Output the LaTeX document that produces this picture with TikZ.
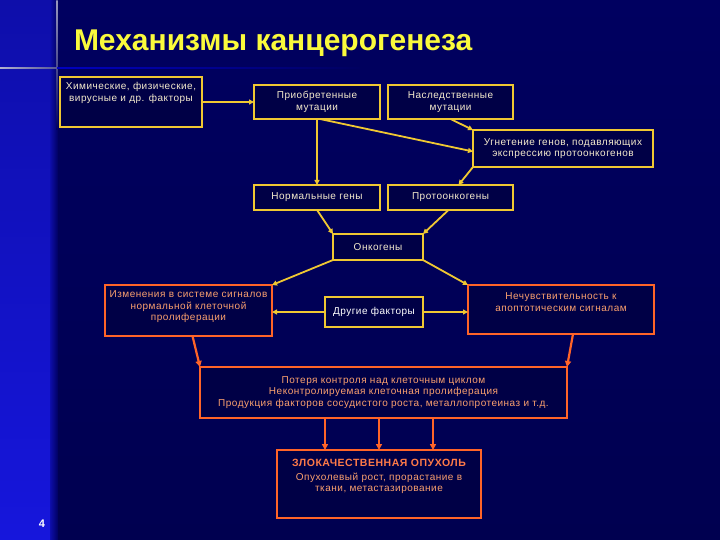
\documentclass[tikz,border=0pt]{standalone}
\usepackage{fontspec}
\setmainfont{Liberation Sans}
\newfontfamily\boxfont{Liberation Sans}[LetterSpace=5]
\definecolor{slidebg}{RGB}{0,0,96}
\definecolor{slidedark}{RGB}{0,0,80}
\definecolor{stripblue}{RGB}{14,14,170}
\definecolor{stripbright}{RGB}{22,22,220}
\definecolor{boxfill}{RGB}{0,0,70}
\definecolor{kyellow}{RGB}{240,200,50}
\definecolor{korange}{RGB}{255,100,40}
\definecolor{kcream}{RGB}{245,235,205}
\definecolor{kpeach}{RGB}{250,160,110}
\definecolor{ktitle}{RGB}{250,250,60}
\usetikzlibrary{arrows.meta}
\newcommand{\toptext}[4]{\parbox[c][#2][t]{#1}{\centering\vspace*{#3}#4}}

\begin{document}
\begin{tikzpicture}[x=1pt,y=-1pt,
  every node/.style={inner sep=2pt,outer sep=0pt,align=center,font=\boxfont\fontsize{10}{11.7}\selectfont},
  ybox/.style={draw=kyellow,line width=1.8pt,fill=boxfill,text=kcream},
  obox/.style={draw=korange,line width=1.8pt,fill=boxfill,text=kpeach},
  yarr/.style={-{Triangle[length=5pt,width=5pt]},draw=kyellow,line width=1.8pt},
  oarr/.style={-{Triangle[length=6pt,width=6pt]},draw=korange,line width=2.2pt}
]
  \useasboundingbox (0,0) rectangle (720,540);

  % Slide background
  \shade[top color=slidebg,bottom color=slidedark] (0,0) rectangle (720,540);
  \shade[top color=stripblue,bottom color=stripbright] (0,0) rectangle (50,540);
  \shade[left color=stripblue,right color=slidebg] (50,0) rectangle (58,540);
  \shade[top color=white!60!slidebg,bottom color=slidebg] (56.3,0) rectangle (57.7,130);
  \shade[left color=white!70!slidebg,right color=slidebg] (0,67.2) rectangle (110,68.8);
  \shade[left color=blue!60!slidebg,right color=slidebg] (57,67.2) rectangle (360,68.8);

  % Title
  \node[anchor=west,text=ktitle,font=\bfseries\fontsize{30}{34}\selectfont] (title) at (72,43) {Механизмы канцерогенеза};

  % Upper part
  \node[ybox,minimum width=142,minimum height=50] (chem) at (131,102) {\toptext{138pt}{46pt}{3.5pt}{Химические, физические,\\вирусные и др. факторы}};
  \node[ybox,minimum width=126,minimum height=34] (acq) at (317,102) {Приобретенные\\мутации};
  \node[ybox,minimum width=125,minimum height=34] (her) at (450.5,102) {Наследственные\\мутации};
  \node[ybox,minimum width=180,minimum height=37] (supp) at (563,148.5) {Угнетение генов, подавляющих\\экспрессию протоонкогенов};
  \node[ybox,minimum width=126,minimum height=25] (norm) at (317,197.5) {Нормальные гены};
  \node[ybox,minimum width=125,minimum height=25] (proto) at (450.5,197.5) {Протоонкогены};
  \node[ybox,minimum width=90,minimum height=26] (onc) at (378,247) {Онкогены};

  \draw[yarr] (chem) -- (acq);
  \draw[yarr] (acq) -- (norm);
  \draw[yarr] ([xshift=3pt]acq.south) -- ([yshift=-3pt]supp.west);
  \draw[yarr] (her.south) -- (supp.north west);
  \draw[yarr] (supp.south west) -- ([xshift=8pt]proto.north);
  \draw[yarr] (norm.south) -- (onc.north west);
  \draw[yarr] ([xshift=-2pt]proto.south) -- (onc.north east);

  % Middle part
  \node[obox,minimum width=167,minimum height=51] (sig) at (188.5,310.5) {\toptext{163pt}{47pt}{3.5pt}{Изменения в системе сигналов\\нормальной клеточной\\пролиферации}};
  \node[ybox,text=white,minimum width=98,minimum height=30] (other) at (374,312) {Другие факторы};
  \node[obox,minimum width=186,minimum height=49] (apo) at (561,309.5) {\toptext{182pt}{45pt}{6pt}{Нечувствительность к\\апоптотическим сигналам}};

  \draw[yarr] (onc.south west) -- (sig.north east);
  \draw[yarr] (onc.south east) -- (apo.north west);
  \draw[yarr] (other.west) -- (other.west -| sig.east);
  \draw[yarr] (other.east) -- (other.east -| apo.west);

  % Lower part
  \node[obox,minimum width=367,minimum height=51] (loss) at (383.5,392.5) {Потеря контроля над клеточным циклом\\Неконтролируемая клеточная пролиферация\\Продукция факторов сосудистого роста, металлопротеиназ и т.д.};
  \node[obox,minimum width=204,minimum height=68] (mal) at (379,484) {\toptext{200pt}{64pt}{7pt}{{\bfseries\fontsize{10.5}{12}\selectfont\color{korange!85!white}ЗЛОКАЧЕСТВЕННАЯ ОПУХОЛЬ}\\[2pt]Опухолевый рост, прорастание в\\ткани, метастазирование}};

  \draw[oarr] ([xshift=4pt]sig.south) -- (loss.north west);
  \draw[oarr] ([xshift=12pt]apo.south) -- (loss.north east);
  \foreach \dx in {-54,0,54}
    \draw[oarr] ([xshift=\dx pt]mal.north |- loss.south) -- ([xshift=\dx pt]mal.north);

  % Slide number
  \node[text=white,font=\bfseries\fontsize{11}{13}\selectfont] (pgnum) at (42,524) {4};
\end{tikzpicture}
\end{document}
